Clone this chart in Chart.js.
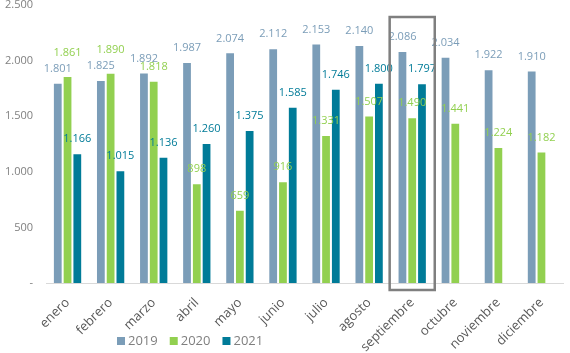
<!DOCTYPE html>
<html lang="es">
<head>
    <meta charset="UTF-8">
    <title>Mensual 2019-2021</title>
    <script src="https://cdn.jsdelivr.net/npm/chart.js"></script>
    <style>
        body { margin: 0; background: #fff; }
        .wrap { width: 570px; height: 353px; }
    </style>
</head>
<body>
    <div class="wrap"><canvas id="chart" width="570" height="353"></canvas></div>

    <script>
        const meses = ["enero", "febrero", "marzo", "abril", "mayo", "junio", "julio",
                       "agosto", "septiembre", "octubre", "noviembre", "diciembre"];
        const anios = ["2019", "2020", "2021"];
        const valores2019 = [1801, 1825, 1892, 1987, 2074, 2112, 2153, 2140, 2086, 2034, 1922, 1910];
        const valores2020 = [1861, 1890, 1818, 898, 659, 916, 1331, 1507, 1490, 1441, 1224, 1182];
        const valores2021 = [1166, 1015, 1136, 1260, 1375, 1585, 1746, 1800, 1797, null, null, null];
        const ticksY = [0, 500, 1000, 1500, 2000, 2500];
        const mesResaltado = "septiembre";

        const colores = ["#7b9db8", "#92d050", "#007b98"];
        const FONT = "'Open Sans', sans-serif";

        function formato(v) {
            return String(v).replace(/\B(?=(\d{3})+(?!\d))/g, ".");
        }

        // etiquetas de valor encima de cada barra
        const etiquetas = {
            id: "etiquetas",
            afterDatasetsDraw(chart) {
                const ctx = chart.ctx;
                ctx.save();
                ctx.font = "11px " + FONT;
                ctx.textAlign = "center";
                ctx.textBaseline = "middle";
                chart.data.datasets.forEach((ds, i) => {
                    const meta = chart.getDatasetMeta(i);
                    meta.data.forEach((bar, j) => {
                        const v = ds.data[j];
                        if (v == null) return;
                        // las dos primeras etiquetas de 2020 van algo más arriba
                        const extra = (i === 1 && j < 2) ? 9 : 0;
                        ctx.fillStyle = colores[i];
                        ctx.fillText(formato(v), bar.x, bar.y - 14 - extra);
                    });
                });
                ctx.restore();
            }
        };

        // recuadro gris del mes resaltado
        const recuadro = {
            id: "recuadro",
            afterDraw(chart) {
                const x = chart.scales.x, y = chart.scales.y;
                const idx = meses.indexOf(mesResaltado);
                const ancho = (x.right - x.left) / meses.length;
                const cx = x.getPixelForValue(idx);
                const ctx = chart.ctx;
                ctx.save();
                ctx.strokeStyle = "#7f7f7f";
                ctx.lineWidth = 2.5;
                ctx.strokeRect(cx - ancho / 2 - 1, y.getPixelForValue(2392), ancho + 2, y.getPixelForValue(0) - y.getPixelForValue(2392) + 7);
                ctx.restore();
            }
        };

        // leyenda propia, colocada a la izquierda como en el original
        const leyenda = {
            id: "leyenda",
            afterDraw(chart) {
                const ctx = chart.ctx;
                ctx.save();
                ctx.font = "13px " + FONT;
                ctx.textBaseline = "middle";
                let x = 117;
                const y = 341;
                chart.data.datasets.forEach((ds, i) => {
                    ctx.fillStyle = colores[i];
                    ctx.fillRect(x, y - 4, 8, 8);
                    x += 11;
                    ctx.fillStyle = "#7f7f7f";
                    ctx.fillText(ds.label, x, y);
                    x += ctx.measureText(ds.label).width + 12;
                });
                ctx.restore();
            }
        };

        const series = [valores2019, valores2020, valores2021];

        new Chart(document.getElementById("chart"), {
            type: "bar",
            data: {
                labels: meses,
                datasets: anios.map((a, i) => ({
                    label: a,
                    data: series[i],
                    backgroundColor: colores[i],
                    borderColor: "rgba(255,255,255,0.6)",
                    borderWidth: 1,
                    categoryPercentage: 0.68,
                    barPercentage: 1
                }))
            },
            options: {
                responsive: false,
                animation: false,
                devicePixelRatio: 1,
                layout: { padding: { top: 5, right: 7, left: 0, bottom: 0 } },
                plugins: {
                    legend: { display: false },
                    tooltip: { enabled: false }
                },
                scales: {
                    x: {
                        grid: { display: false },
                        border: { color: "#d9d9d9", width: 1 },
                        ticks: {
                            color: "#595959",
                            font: { family: FONT, size: 13 },
                            maxRotation: 45,
                            minRotation: 45,
                            padding: 4
                        },
                        afterFit(s) { s.height = 70; s.paddingLeft = 0; s.paddingRight = 0; }
                    },
                    y: {
                        min: 0,
                        max: 2500,
                        grid: { display: false, drawTicks: false },
                        border: { display: false },
                        afterBuildTicks(s) { s.ticks = ticksY.map(v => ({ value: v })); },
                        ticks: {
                            color: "#808080",
                            font: { family: FONT, size: 11 },
                            padding: 13,
                            callback: v => v === 0 ? "-" : formato(v)
                        },
                        afterFit(s) { s.width = 46; s.paddingTop = 0; s.paddingBottom = 0; }
                    }
                }
            },
            plugins: [etiquetas, recuadro, leyenda]
        });
    </script>
</body>
</html>
